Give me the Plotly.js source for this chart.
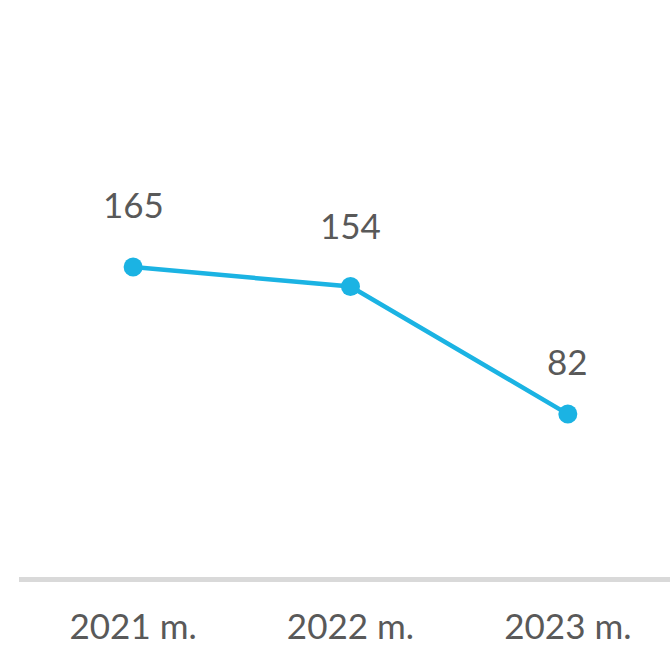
<!DOCTYPE html>
<html>
<head>
<meta charset="utf-8">
<script src="https://cdn.plot.ly/plotly-3.0.1.min.js"></script>
<style>html,body{margin:0;padding:0;background:#fff;}#chart{width:670px;height:646px;}</style>
</head>
<body>
<div id="chart"></div>
<script>
const categories = ["2021 m.", "2022 m.", "2023 m."];
const values = [165, 154, 82];
const labelShifts = [63, 62, 53];

const lineColor = "#1bb3e3";
const textColor = "#595959";
const font = "Lato, 'Open Sans', sans-serif";

const trace = {
  type: "scatter",
  mode: "lines+markers",
  x: [0, 1, 2],
  y: values,
  line: {color: lineColor, width: 4.5},
  marker: {color: lineColor, size: 19},
  hoverinfo: "skip"
};

const annotations = values.map((v, i) => ({
  x: i, y: v, xref: "x", yref: "y",
  text: String(v), showarrow: false,
  yshift: labelShifts[i], yanchor: "middle",
  font: {family: font, size: 35, color: textColor}
}));

const layout = {
  width: 670, height: 646,
  margin: {l: 19, r: 0, t: 0, b: 69},
  paper_bgcolor: "#fff", plot_bgcolor: "#fff",
  showlegend: false,
  xaxis: {
    range: [-0.525, 2.47],
    tickvals: [0, 1, 2],
    ticktext: categories,
    showgrid: false, zeroline: false,
    showline: true, linecolor: "#d9d9d9", linewidth: 5,
    ticks: "", ticklabelstandoff: 15,
    tickfont: {family: font, size: 35, color: textColor}
  },
  yaxis: {
    range: [-10, 315.8],
    visible: false, showgrid: false, zeroline: false
  },
  annotations: annotations
};

Plotly.newPlot("chart", [trace], layout, {displayModeBar: false, staticPlot: true});
</script>
</body>
</html>
